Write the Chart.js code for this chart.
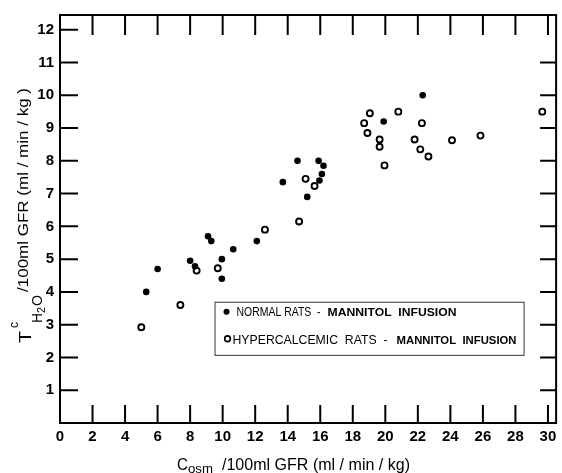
<!DOCTYPE html>
<html>
<head>
<meta charset="utf-8">
<script src="https://cdn.jsdelivr.net/npm/chart.js@4"></script>
<style>
  html, body { margin: 0; padding: 0; background: #fff; }
  canvas { display: block; }
</style>
</head>
<body>
<canvas id="chart" width="562" height="473"></canvas>
<script>
// values
const normalX = [5.3, 6.0, 8.0, 8.3, 9.1, 9.3, 9.95, 9.95, 10.65, 12.1, 13.7, 14.6, 15.2, 15.9, 16.2, 16.1, 15.95, 19.9, 22.3];
const normalY = [4.0, 4.7, 4.95, 4.78, 5.7, 5.55, 5.0, 4.4, 5.3, 5.55, 7.35, 8.0, 6.9, 8.0, 7.85, 7.6, 7.4, 9.2, 10.0];
const hyperX = [5.0, 7.4, 8.4, 9.7, 12.6, 14.7, 15.1, 15.65, 18.7, 19.05, 20.8, 18.9, 19.65, 19.65, 19.95, 22.25, 21.8, 22.15, 22.65, 24.1, 25.85, 29.65];
const hyperY = [2.92, 3.6, 4.65, 4.72, 5.9, 6.15, 7.45, 7.23, 9.15, 9.45, 9.5, 8.85, 8.65, 8.43, 7.86, 9.15, 8.65, 8.35, 8.13, 8.63, 8.77, 9.5];
const xTicks = [0, 2, 4, 6, 8, 10, 12, 14, 16, 18, 20, 22, 24, 26, 28, 30];
const yTicks = [1, 2, 3, 4, 5, 6, 7, 8, 9, 10, 11, 12];
const legendMain = ["NORMAL RATS  -", "HYPERCALCEMIC  RATS  -"];
const legendSub = ["MANNITOL  INFUSION", "MANNITOL  INFUSION"];

const FONT = "'Liberation Sans', Arial, sans-serif";

function pairs(xs, ys) {
  return xs.map((x, i) => ({ x: x, y: ys[i] }));
}

// draw text squeezed/stretched to a given width
function fitText(ctx, str, x, y, w, font) {
  ctx.font = font;
  const m = ctx.measureText(str).width;
  ctx.save();
  ctx.translate(x, y);
  ctx.scale(w / m, 1);
  ctx.fillText(str, 0, 0);
  ctx.restore();
}

const framePlugin = {
  id: 'frame',
  afterDraw(chart) {
    const ctx = chart.ctx;
    const a = chart.chartArea;
    const xs = chart.scales.x, ys = chart.scales.y;
    ctx.save();
    ctx.strokeStyle = '#000';
    ctx.lineWidth = 2;
    ctx.strokeRect(a.left, a.top, a.right - a.left, a.bottom - a.top);

    // inward tick marks on all four sides
    ctx.beginPath();
    xTicks.forEach(v => {
      if (v === 0) return;
      const px = xs.getPixelForValue(v);
      ctx.moveTo(px, a.bottom); ctx.lineTo(px, a.bottom - 18);
      ctx.moveTo(px, a.top); ctx.lineTo(px, a.top + 20);
    });
    yTicks.forEach(v => {
      const py = ys.getPixelForValue(v);
      ctx.moveTo(a.left, py); ctx.lineTo(a.left + 18, py);
      if (v < 12) { ctx.moveTo(a.right, py); ctx.lineTo(a.right - 16, py); }
    });
    ctx.stroke();

    ctx.fillStyle = '#000';
    ctx.textBaseline = 'alphabetic';
    ctx.textAlign = 'left';

    // x title: C_osm /100ml GFR (ml/min/kg)
    fitText(ctx, 'C', 177, 470, 11, `17px ${FONT}`);
    fitText(ctx, 'osm', 188, 472.5, 25, `13px ${FONT}`);
    fitText(ctx, '/100ml GFR (ml / min / kg)', 222, 470, 188, `17px ${FONT}`);

    // y title, rotated: T^c_H2O /100ml GFR (ml/min/kg)
    ctx.save();
    ctx.translate(0, 344);
    ctx.rotate(-Math.PI / 2);
    // u along text (upwards on screen), v = screen x
    fitText(ctx, 'T', 1, 31, 12, `17px ${FONT}`);
    fitText(ctx, 'c', 16, 18, 6, `12px ${FONT}`);
    fitText(ctx, 'H', 21, 42, 10, `14px ${FONT}`);
    fitText(ctx, '2', 31, 45, 6, `10px ${FONT}`);
    fitText(ctx, 'O', 38, 42, 11, `14px ${FONT}`);
    fitText(ctx, '/100ml GFR (ml / min / kg )', 52, 28, 204, `15px ${FONT}`);
    ctx.restore();

    // legend box
    const lx0 = xs.getPixelForValue(9.5), lx1 = xs.getPixelForValue(28.5);
    const ly0 = ys.getPixelForValue(3.7), ly1 = ys.getPixelForValue(2.08);
    ctx.strokeStyle = '#333';
    ctx.lineWidth = 1;
    ctx.strokeRect(lx0 + 0.5, ly0 + 0.5, lx1 - lx0, ly1 - ly0);

    ctx.fillStyle = '#000';
    ctx.beginPath();
    ctx.arc(lx0 + 12, ly0 + 10, 3, 0, Math.PI * 2);
    ctx.fill();
    ctx.beginPath();
    ctx.lineWidth = 1.7;
    ctx.strokeStyle = '#000';
    ctx.arc(lx0 + 13, ly0 + 37, 2.8, 0, Math.PI * 2);
    ctx.stroke();

    fitText(ctx, legendMain[0], lx0 + 22, ly0 + 14, 84, `13px ${FONT}`);
    fitText(ctx, legendSub[0], lx0 + 113, ly0 + 14, 129, `bold 10.5px ${FONT}`);
    fitText(ctx, legendMain[1], lx0 + 18, ly0 + 42, 155, `13px ${FONT}`);
    fitText(ctx, legendSub[1], lx0 + 182, ly0 + 42, 120, `bold 10.5px ${FONT}`);
    ctx.restore();
  }
};

new Chart(document.getElementById('chart'), {
  type: 'scatter',
  data: {
    datasets: [{
      label: legendMain[0] + ' ' + legendSub[0],
      data: pairs(normalX, normalY),
      pointStyle: 'circle',
      pointRadius: 3.3,
      pointBorderWidth: 0,
      pointBackgroundColor: '#000',
      pointBorderColor: '#000'
    }, {
      label: legendMain[1] + ' ' + legendSub[1],
      data: pairs(hyperX, hyperY),
      pointStyle: 'circle',
      pointRadius: 3,
      pointBorderWidth: 1.9,
      pointBackgroundColor: '#fff',
      pointBorderColor: '#000'
    }]
  },
  options: {
    responsive: false,
    animation: false,
    devicePixelRatio: 1,
    layout: { padding: { top: 15, right: 2, left: 0, bottom: 0 } },
    plugins: {
      legend: { display: false },
      tooltip: { enabled: false },
      title: { display: false }
    },
    scales: {
      x: {
        type: 'linear',
        min: 0,
        max: 30.5,
        afterBuildTicks: s => { s.ticks = xTicks.map(v => ({ value: v })); },
        afterFit: s => { s.height = 50; },
        grid: { display: false, drawTicks: false },
        border: { display: false },
        ticks: {
          autoSkip: false,
          maxRotation: 0,
          padding: 5,
          color: '#000',
          font: { family: FONT, size: 15, weight: 'bold' }
        }
      },
      y: {
        type: 'linear',
        min: 0,
        max: 12.45,
        afterBuildTicks: s => { s.ticks = yTicks.map(v => ({ value: v })); },
        afterFit: s => { s.width = 60; },
        grid: { display: false, drawTicks: false },
        border: { display: false },
        ticks: {
          autoSkip: false,
          padding: 6,
          color: '#000',
          font: { family: FONT, size: 15, weight: 'bold' }
        }
      }
    }
  },
  plugins: [framePlugin]
});
</script>
</body>
</html>
